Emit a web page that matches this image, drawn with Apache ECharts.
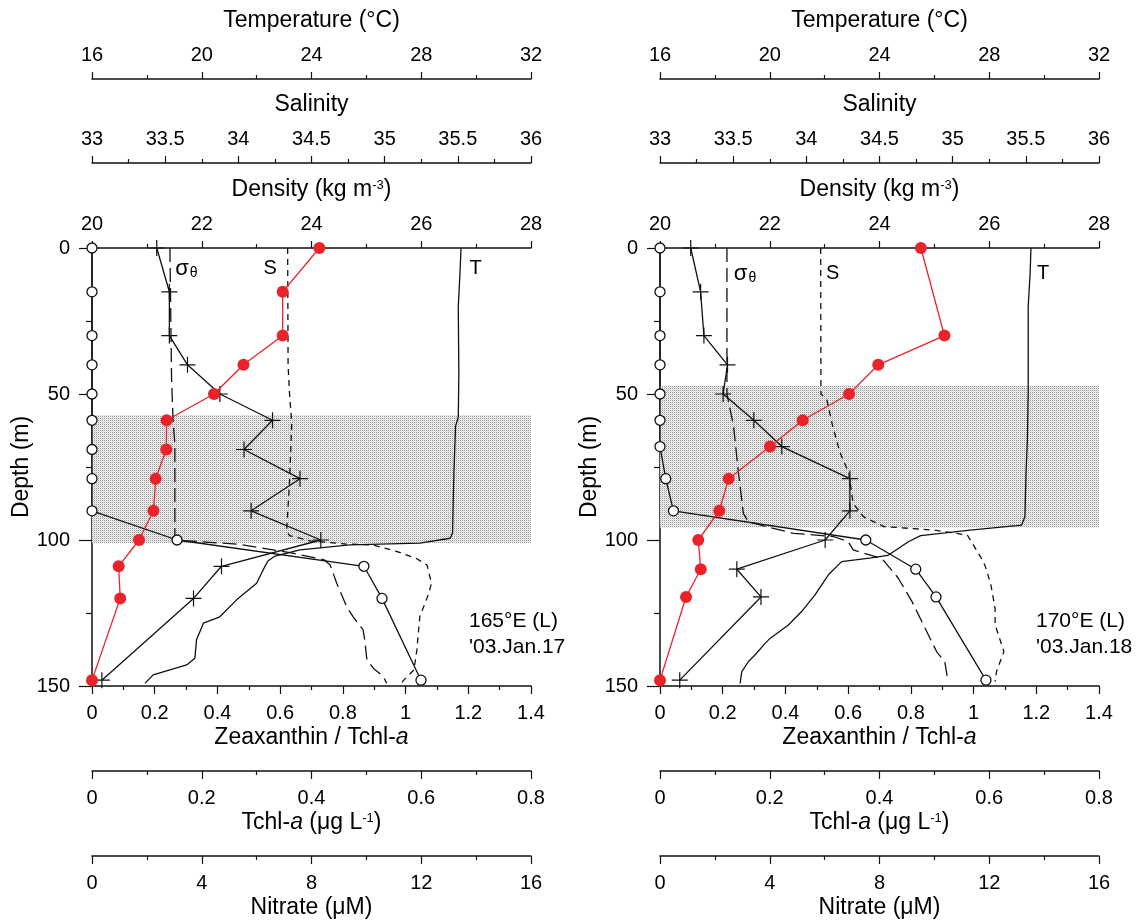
<!DOCTYPE html>
<html>
<head>
<meta charset="utf-8">
<script src="https://cdn.jsdelivr.net/npm/echarts@6.0.0/dist/echarts.min.js"></script>
<style>html,body{margin:0;padding:0;background:#fff}#c{width:1143px;height:924px}</style>
</head>
<body>
<div id="c"></div>
<script>
// ---------- LEFT PANEL (165°E) ----------
const depthL = [0, 15, 30, 40, 50, 59, 69, 79, 90, 100, 109, 120, 148];
const zeaL   = [0.725, 0.608, 0.608, 0.483, 0.389, 0.238, 0.237, 0.203, 0.196, 0.150, 0.085, 0.090, 0];
const tchlL  = [0.118, 0.141, 0.141, 0.174, 0.233, 0.329, 0.277, 0.379, 0.290, 0.417, 0.236, 0.185, 0.018];
const nitL   = [0, 0, 0, 0, 0, 0, 0, 0, 0, 3.1, 9.91, 10.57, 11.99];
const tDepL  = [0, 9, 20, 43, 58, 61, 77, 97.7, 99.4, 101.1, 101.7, 103.4, 105.5, 107.2, 109.1, 114.8, 120.5, 126.3, 128.5, 134.2, 140.5, 142.8, 146.2, 149.1];
const tempL  = [29.45, 29.41, 29.35, 29.37, 29.35, 29.25, 29.19, 29.14, 29.05, 27.95, 25.4, 23.58, 22.67, 22.41, 22.3, 22.0, 21.27, 20.66, 20.06, 19.81, 19.75, 19.45, 18.23, 17.93];
const sDepL  = [0, 40, 50, 60, 80, 97, 98.5, 100.3, 101.4, 101.7, 103.9, 106.4, 108.6, 114.8, 118.5, 126.3, 137.7, 144.5, 148, 149.5];
const salL   = [34.337, 34.34, 34.35, 34.365, 34.35, 34.33, 34.35, 34.49, 34.74, 34.92, 35.08, 35.22, 35.29, 35.32, 35.30, 35.24, 35.22, 35.20, 35.13, 35.11];
const dDepL  = [0, 30, 45, 60, 67, 100, 101.5, 104.5, 106.8, 108.6, 114.8, 122.8, 126.3, 130.8, 134.2, 141, 144, 146.8, 149];
const denL   = [21.42, 21.44, 21.45, 21.48, 21.51, 21.51, 22.70, 23.66, 24.23, 24.34, 24.46, 24.64, 24.76, 24.94, 24.97, 25.01, 25.13, 25.31, 25.37];
const shadeL = [57.2, 101.1];
const stationL = ["165°E (L)", "'03.Jan.17"];

// ---------- RIGHT PANEL (170°E) ----------
const depthRz = [0, 30, 40, 50, 59, 68, 79, 90, 100, 110, 119.5, 148];
const zeaR    = [0.832, 0.907, 0.696, 0.603, 0.455, 0.351, 0.219, 0.189, 0.122, 0.130, 0.083, 0];
const depthR  = [0, 15, 30, 40, 50, 59, 68, 79, 90, 100, 110, 119.5, 148];
const tchlR   = [0.056, 0.074, 0.080, 0.123, 0.115, 0.171, 0.222, 0.346, 0.346, 0.301, 0.140, 0.184, 0.036];
const nitR    = [0, 0, 0, 0, 0, 0, 0, 0.21, 0.49, 7.50, 9.32, 10.06, 11.88];
const tDepR   = [0, 8.6, 20, 49, 65.8, 77, 92, 94.9, 95.1, 96.6, 98.5, 100.6, 102.8, 105.3, 106.1, 107.4, 112, 118.8, 124.5, 129.1, 133.7, 135.4, 139.4, 141.7, 145.1, 149.1];
const tempR   = [29.52, 29.49, 29.42, 29.42, 29.39, 29.34, 29.30, 29.18, 29.0, 27.3, 25.5, 25.05, 24.7, 24.3, 23.7, 22.62, 22.13, 21.65, 21.16, 20.68, 20.01, 19.83, 19.46, 19.22, 18.98, 18.92];
const sDepR   = [0, 50, 52, 61, 70, 77, 87.5, 92, 95.4, 96.6, 98.3, 105.7, 108.6, 115, 123.4, 129, 138.2, 145, 148.5];
const salR    = [34.098, 34.10, 34.14, 34.18, 34.23, 34.29, 34.32, 34.39, 34.53, 34.87, 35.10, 35.19, 35.22, 35.26, 35.29, 35.29, 35.35, 35.30, 35.29];
const dDepR   = [0, 50, 61, 77, 91, 93.7, 95.4, 97.7, 98.8, 100.6, 103.4, 106.3, 113, 121, 130.2, 138.2, 141.7, 148.5];
const denR    = [21.22, 21.22, 21.34, 21.43, 21.52, 21.61, 21.94, 22.43, 23.16, 23.43, 23.52, 24.04, 24.34, 24.59, 24.83, 25.04, 25.19, 25.25];
const shadeR  = [47.1, 95.7];
const stationR = ["170°E (L)", "'03.Jan.18"];

// ---------- AXES (ticks) ----------
const tempTicks = {min: 16, max: 32, interval: 4};
const salTicks  = {min: 33, max: 36, interval: 0.5};
const denTicks  = {min: 20, max: 28, interval: 2};
const zeaTicks  = {min: 0, max: 1.4, interval: 0.2};
const tchlTicks = {min: 0, max: 0.8, interval: 0.2};
const nitTicks  = {min: 0, max: 16, interval: 4};
const depthTicks = {min: 0, max: 150, interval: 50};

const FONT = "'Liberation Sans', Arial, Helvetica, sans-serif";
const RED = '#e8232a';
const INK = '#111';

function pairs(xs, ys) { return xs.map((x, i) => [x, ys[i]]); }

// dotted shading pattern
const pat = document.createElement('canvas');
pat.width = 2; pat.height = 2;
(function () {
  const c = pat.getContext('2d');
  c.fillStyle = '#f5f5f5'; c.fillRect(0, 0, 2, 2);
  c.fillStyle = '#969696'; c.fillRect(0, 0, 1, 1);
  c.fillStyle = '#d6d6d6'; c.fillRect(1, 1, 1, 1);
})();

const richText = {
  i: {fontStyle: 'italic', fontSize: 23, fontFamily: FONT, color: '#000'},
  sup: {fontSize: 13, verticalAlign: 'top', fontFamily: FONT, color: '#000'}
};

function xAx(g, pos, off, t, name) {
  const top = pos === 'top';
  return {
    type: 'value', gridIndex: g, position: pos, offset: off,
    min: t.min, max: t.max, interval: t.interval,
    name: name, nameLocation: 'middle', nameGap: top ? 58 : 52,
    nameTextStyle: {fontSize: 23, color: '#000', fontFamily: FONT, verticalAlign: 'middle', rich: richText},
    axisLine: {show: true, onZero: false, lineStyle: {color: INK, width: 1.5}},
    axisTick: {show: true, length: top ? 7 : 8, lineStyle: {color: INK, width: 1.2}},
    minorTick: {show: true, splitNumber: 2, length: 4, lineStyle: {color: INK, width: 1.2}},
    axisLabel: {fontSize: 20, color: '#000', fontFamily: FONT, margin: top ? 14 : 17, showMinLabel: true, showMaxLabel: true},
    splitLine: {show: false}, minorSplitLine: {show: false}
  };
}

function yAx(g) {
  return {
    type: 'value', gridIndex: g, inverse: true,
    min: depthTicks.min, max: depthTicks.max, interval: depthTicks.interval,
    name: 'Depth (m)', nameLocation: 'middle', nameGap: 70, nameRotate: 90,
    nameTextStyle: {fontSize: 23, color: '#000', fontFamily: FONT, verticalAlign: 'middle'},
    axisLine: {show: true, onZero: false, lineStyle: {color: INK, width: 1.5}},
    axisTick: {show: true, length: 13, lineStyle: {color: INK, width: 1.2}},
    minorTick: {show: true, splitNumber: 2, length: 6, lineStyle: {color: INK, width: 1.2}},
    axisLabel: {fontSize: 20, color: '#000', fontFamily: FONT, margin: 22},
    splitLine: {show: false}, minorSplitLine: {show: false}
  };
}

function mkLabel(coord, text, rich) {
  return {
    symbol: 'circle', symbolSize: 1, silent: true,
    itemStyle: {color: 'rgba(0,0,0,0)'},
    label: {show: true, position: 'inside', color: '#000', fontSize: 20, fontFamily: FONT, formatter: text, rich: rich},
    data: [{coord: coord}]
  };
}

const PLUS = 'path://M8,0L8,16M0,8L16,8';

const panels = [
  {zD: depthL, zea: zeaL, cD: depthL, tchl: tchlL, nit: nitL, tD: tDepL, t: tempL, sD: sDepL, s: salL, dD: dDepL, d: denL, shade: shadeL,
   labT: [29.98, 6.9], labS: [34.217, 6.9], labD: [21.72, 7.3]},
  {zD: depthRz, zea: zeaR, cD: depthR, tchl: tchlR, nit: nitR, tD: tDepR, t: tempR, sD: sDepR, s: salR, dD: dDepR, d: denR, shade: shadeR,
   labT: [29.96, 8.6], labS: [34.18, 8.6], labD: [21.55, 8.8]}
];

const xAxis = [], yAxis = [], series = [];
panels.forEach((p, g) => {
  const b = g * 6;
  xAxis.push(xAx(g, 'top', 169, tempTicks, 'Temperature (°C)'));
  xAxis.push(xAx(g, 'top', 85, salTicks, 'Salinity'));
  xAxis.push(xAx(g, 'top', 0, denTicks, 'Density (kg m{sup|-3})'));
  xAxis.push(xAx(g, 'bottom', 0, zeaTicks, 'Zeaxanthin / Tchl-{i|a}'));
  xAxis.push(xAx(g, 'bottom', 85, tchlTicks, 'Tchl-{i|a} (μg L{sup|-1})'));
  xAxis.push(xAx(g, 'bottom', 170, nitTicks, 'Nitrate (μM)'));
  yAxis.push(yAx(g));

  // shaded layer
  series.push({
    type: 'line', xAxisIndex: b + 3, yAxisIndex: g, data: [], z: 1, silent: true,
    markArea: {silent: true, itemStyle: {color: {image: pat, repeat: 'repeat'}}, data: [[{yAxis: p.shade[0]}, {yAxis: p.shade[1]}]]}
  });
  // Temperature
  series.push({
    name: 'T', type: 'line', xAxisIndex: b + 0, yAxisIndex: g, data: pairs(p.t, p.tD), symbol: 'none', z: 3, silent: true,
    lineStyle: {color: INK, width: 1.3},
    markPoint: mkLabel(p.labT, 'T')
  });
  // Salinity
  series.push({
    name: 'S', type: 'line', xAxisIndex: b + 1, yAxisIndex: g, data: pairs(p.s, p.sD), symbol: 'none', z: 3, silent: true,
    lineStyle: {color: INK, width: 1.3, type: [6, 5]},
    markPoint: mkLabel(p.labS, 'S')
  });
  // Density sigma-theta
  series.push({
    name: 'σθ', type: 'line', xAxisIndex: b + 2, yAxisIndex: g, data: pairs(p.d, p.dD), symbol: 'none', z: 3, silent: true,
    lineStyle: {color: INK, width: 1.3, type: [14, 6]},
    markPoint: mkLabel(p.labD, '{a|σ}{b|θ}', {
      a: {fontSize: 22, fontFamily: FONT, color: '#000'},
      b: {fontSize: 14, fontFamily: FONT, color: '#000', verticalAlign: 'bottom', padding: [0, 0, 0, 1]}
    })
  });
  // Tchl-a
  series.push({
    name: 'Tchl-a', type: 'line', xAxisIndex: b + 4, yAxisIndex: g, data: pairs(p.tchl, p.cD), z: 4, silent: true,
    symbol: PLUS, symbolSize: 16,
    itemStyle: {color: 'rgba(0,0,0,0)', borderColor: INK, borderWidth: 1.2},
    lineStyle: {color: INK, width: 1.3}
  });
  // Nitrate
  series.push({
    name: 'Nitrate', type: 'line', xAxisIndex: b + 5, yAxisIndex: g, data: pairs(p.nit, p.cD), z: 5, silent: true,
    symbol: 'circle', symbolSize: 10,
    itemStyle: {color: '#fff', borderColor: INK, borderWidth: 1.3},
    lineStyle: {color: INK, width: 1.3}
  });
  // Zeaxanthin / Tchl-a
  series.push({
    name: 'Zeaxanthin/Tchl-a', type: 'line', xAxisIndex: b + 3, yAxisIndex: g, data: pairs(p.zea, p.zD), z: 6, silent: true,
    symbol: 'circle', symbolSize: 12,
    itemStyle: {color: RED, borderWidth: 0},
    lineStyle: {color: RED, width: 1.3}
  });
});

const chart = echarts.init(document.getElementById('c'), null, {renderer: 'canvas'});
chart.setOption({
  animation: false,
  backgroundColor: '#fff',
  grid: [
    {left: 92, top: 248, width: 439, height: 438, containLabel: false, outerBoundsMode: 'none'},
    {left: 660, top: 248, width: 439, height: 438, containLabel: false, outerBoundsMode: 'none'}
  ],
  xAxis: xAxis,
  yAxis: yAxis,
  series: series,
  graphic: [
    {type: 'text', x: 469, y: 608, silent: true, style: {text: stationL.join('\n'), font: "21px 'Liberation Sans', Arial, sans-serif", fill: '#000', lineHeight: 26}},
    {type: 'text', x: 1036, y: 608, silent: true, style: {text: stationR.join('\n'), font: "21px 'Liberation Sans', Arial, sans-serif", fill: '#000', lineHeight: 26}}
  ]
});
</script>
</body>
</html>
